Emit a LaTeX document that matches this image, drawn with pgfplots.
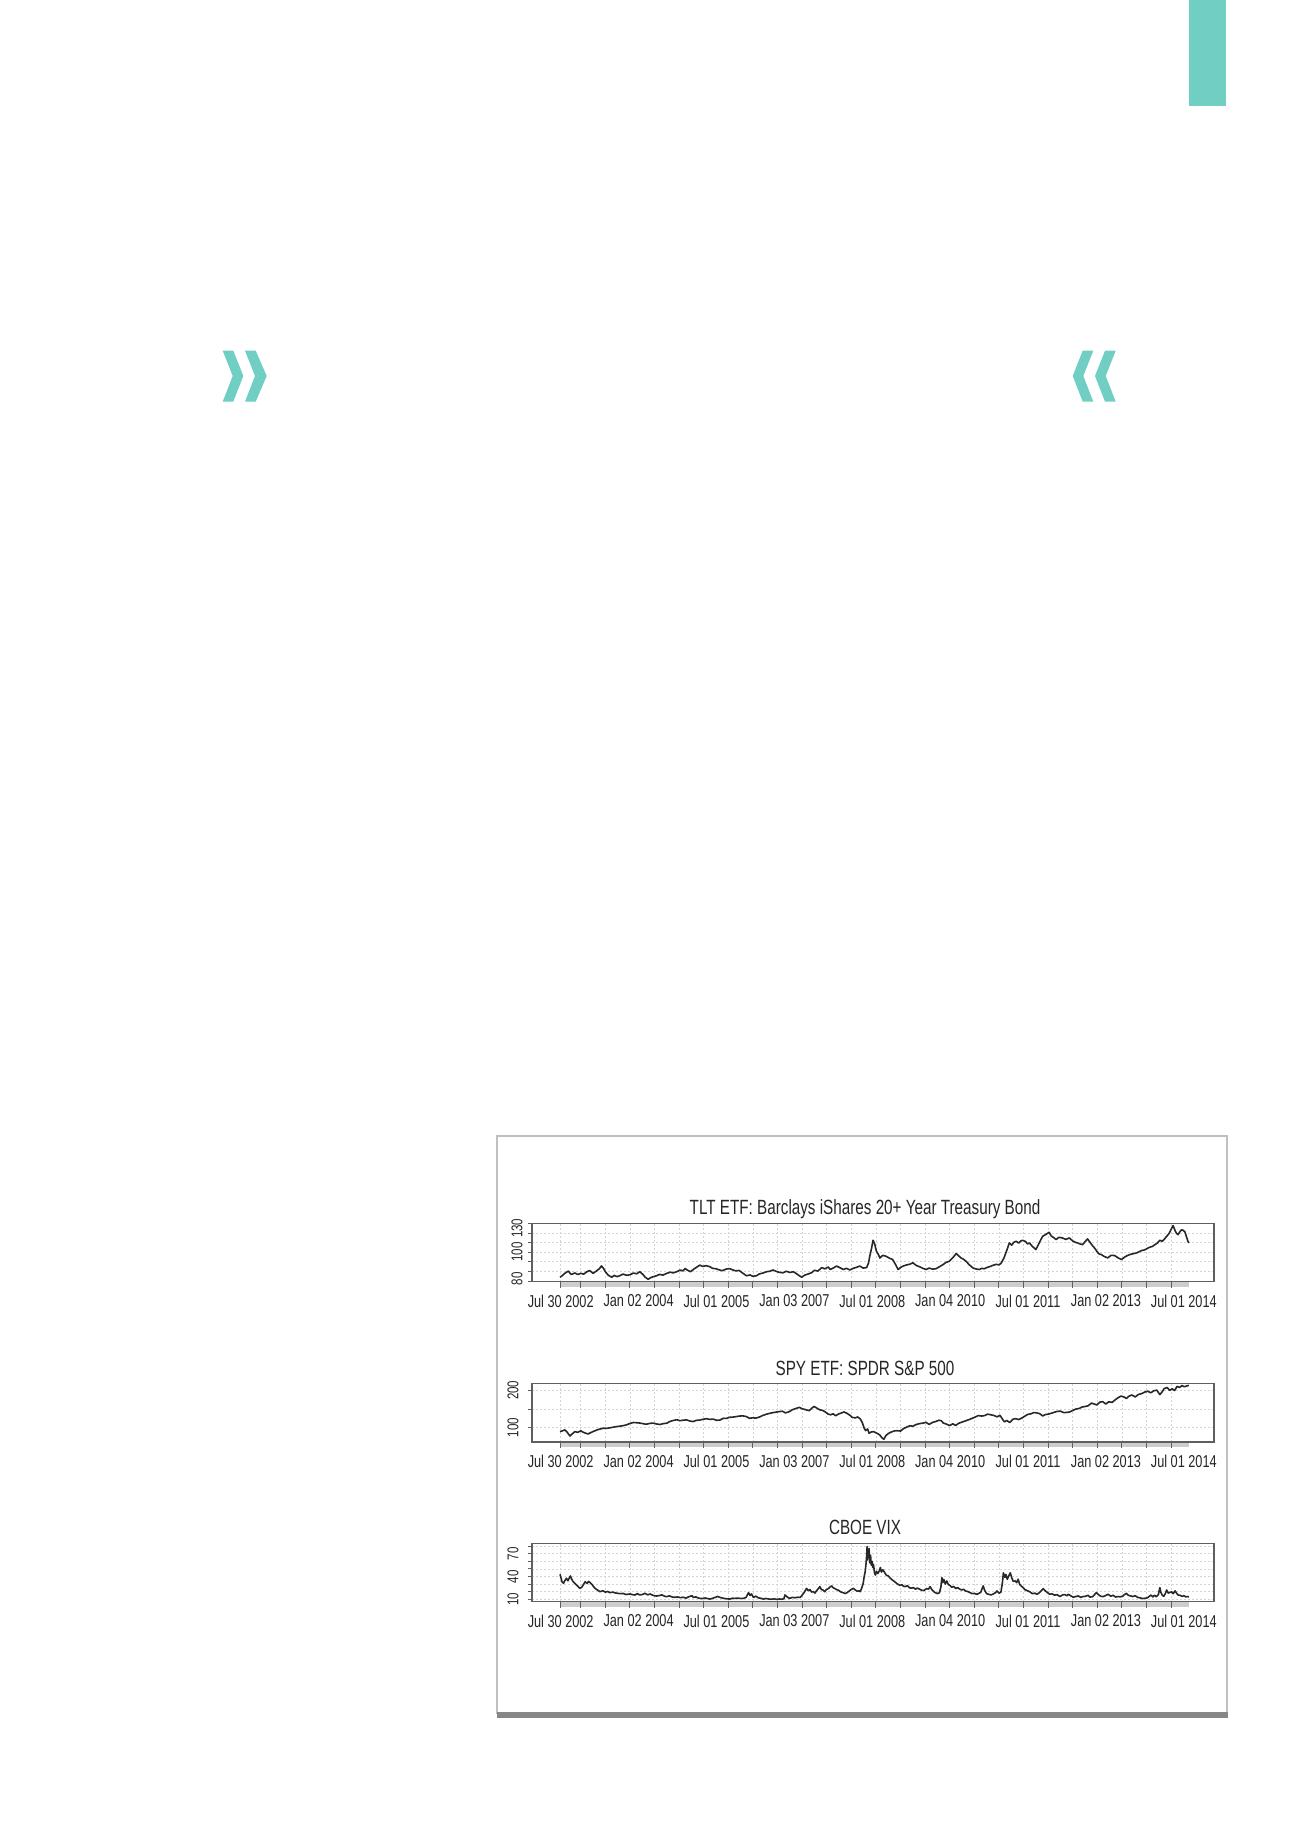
\documentclass[border=0pt]{standalone}
\usepackage{fontspec}
\setmainfont{Liberation Sans}[FakeStretch=0.74]
\usepackage{pgfplots}
\pgfplotsset{compat=1.18}

\definecolor{tealc}{RGB}{112,206,194}
\definecolor{linec}{RGB}{40,40,40}
\definecolor{framec}{RGB}{95,95,95}
\definecolor{gridc}{RGB}{212,212,212}
\definecolor{bandc}{RGB}{205,205,205}
\definecolor{boxc}{RGB}{192,192,192}
\definecolor{shadc}{RGB}{135,135,135}

\pgfplotsset{
  xtspanel/.style={
    scale only axis, width=341pt, height=29.2pt,
    anchor=south west,
    xmin=2002.009, xmax=2015.871,
    axis line style={draw=framec, line width=0.6pt},
    tick align=outside, xtick pos=left, ytick pos=left,
    xtick={2002.592,2004.175,2005.758,2007.341,2008.925,2010.508,2012.091,2013.674,2015.257},
    xticklabels={Jul 30 2002,Jan 02 2004,Jul 01 2005,Jan 03 2007,Jul 01 2008,Jan 04 2010,Jul 01 2011,Jan 02 2013,Jul 01 2014},
    major x tick style={draw=none},
    minor xtick={2002.578,2003,2003.5,2004,2004.5,2005,2005.5,2006,2006.5,2007,2007.5,2008,2008.5,2009,2009.5,2010,2010.5,2011,2011.5,2012,2012.5,2013,2013.5,2014,2014.5,2015},
    minor x tick style={draw=framec, line width=0.5pt},
    minor tick length=3pt, major tick length=2pt,
    ytick style={draw=framec, line width=0.5pt},
    xminorgrids=true, xmajorgrids=false, ymajorgrids=true,
    grid style={draw=gridc, line width=0.4pt, dash pattern=on 1pt off 1pt},
    minor grid style={draw=gridc, line width=0.4pt, dash pattern=on 1pt off 1pt},
    tick label style={font=\fontsize{8.6}{9}\selectfont, text=black!85, inner sep=0pt},
    xticklabel style={anchor=north},
    xticklabel shift=4.3pt,
    yticklabel style={rotate=90, anchor=south, font=\fontsize{7.8}{8}\selectfont},
    yticklabel shift=4.6pt,
    title style={font=\fontsize{10.3}{11}\selectfont, text=black!85, anchor=base, at={(0.5,1)}, yshift=-1.8pt, xshift=-4pt},
    /pgf/number format/assume math mode=true,
  },
  tsline/.style={draw=linec, line width=0.8pt, mark=none, line join=round},
}

\begin{document}
\begin{tikzpicture}
\fill[white] (0,0) rectangle (650pt,919.5pt);
\path[use as bounding box] (0,0) rectangle (650pt,919.5pt);

\begin{scope}[x=0.5pt, y=-0.5pt, shift={(0pt,919.5pt)}]
  % teal bar and chevrons
  \fill[tealc] (1189.3,0) rectangle (1226,105.7);
  \fill[tealc] (222.7,350.7) -- (233.3,350.7) -- (243.3,376) -- (233.3,401.7) -- (222.7,401.7) -- (232.7,376) -- cycle;
  \fill[tealc] (245,350.7) -- (255.7,350.7) -- (266.7,376) -- (255.7,401.7) -- (245,401.7) -- (255,376) -- cycle;
  \fill[tealc] (1093.3,350.7) -- (1082.7,350.7) -- (1072.7,376) -- (1082.7,401.7) -- (1093.3,401.7) -- (1083.3,376) -- cycle;
  \fill[tealc] (1115.7,350.7) -- (1105,350.7) -- (1095,376) -- (1105,401.7) -- (1115.7,401.7) -- (1105.7,376) -- cycle;
  % chart box
  \draw[boxc, line width=0.75pt] (497,1714) -- (497,1136) -- (1227,1136) -- (1227,1714);
  \draw[shadc, line width=3pt] (497,1715) -- (1228,1715);
  % grey tick bands under the panels
  \fill[bandc] (560,1281.7) rectangle (1189.3,1287);
  \fill[bandc] (560,1442) rectangle (1189.3,1447.3);
  \fill[bandc] (560,1601.7) rectangle (1189.3,1607);
\end{scope}

% TLT
\begin{axis}[xtspanel, at={(266pt,278.65pt)},
  title={TLT ETF: Barclays iShares 20+ Year Treasury Bond},
  ymin=79.3, ymax=140.2,
  ytick={80,90,100,110,120,130,140}, yticklabels={,,,,,,},
  extra y ticks={82.3,110.3,135}, extra y tick labels={80,100,130},
  extra y tick style={major tick length=0pt, ymajorgrids=false}]
\addplot[tsline] coordinates {
(2002.578,83.9)(2002.62,85.5)(2002.68,88.2)(2002.75,90.4)(2002.79,87.5)(2002.82,87)(2002.88,88.4)(2002.94,86.8)
(2003.00,88)(2003.06,87.2)(2003.12,89.5)(2003.18,91)(2003.25,88)(2003.32,90.5)(2003.38,93)(2003.42,95.7)
(2003.46,93.4)(2003.5,89.7)(2003.56,86)(2003.63,84)(2003.68,85.8)(2003.74,84.6)(2003.79,85.5)(2003.86,87.2)
(2003.93,86)(2004.00,86.5)(2004.07,88.3)(2004.14,87.6)(2004.2,89.7)(2004.26,87)(2004.31,84)(2004.37,81.8)
(2004.42,83.5)(2004.48,84.6)(2004.54,85.5)(2004.6,86.9)(2004.67,86.2)(2004.75,88)(2004.82,89.2)(2004.88,88.5)
(2004.95,89.7)(2005.02,91.4)(2005.08,90.6)(2005.12,93)(2005.18,91)(2005.23,89.7)(2005.3,92.6)(2005.36,94.5)
(2005.42,96.6)(2005.48,95.2)(2005.55,96)(2005.62,95)(2005.68,93.2)(2005.75,92.8)(2005.82,91.5)(2005.88,90.8)
(2005.95,92.4)(2006.02,93)(2006.08,91.8)(2006.15,90.6)(2006.22,91)(2006.28,88.7)(2006.33,86.8)(2006.37,85.5)
(2006.44,86.3)(2006.5,84.9)(2006.57,85.5)(2006.63,87.4)(2006.7,88.3)(2006.78,89.7)(2006.84,90.2)(2006.91,91.5)
(2006.97,90.1)(2007.04,89)(2007.11,88.6)(2007.18,90.2)(2007.25,88.9)(2007.32,89.7)(2007.38,87.8)(2007.44,85.6)
(2007.49,84)(2007.55,86.1)(2007.62,87.3)(2007.69,88.6)(2007.75,91.2)(2007.82,90.4)(2007.9,94)(2007.96,92.7)
(2008.03,94.6)(2008.07,92)(2008.13,93.5)(2008.2,95.6)(2008.27,93.8)(2008.34,92)(2008.4,93.3)(2008.47,91.5)
(2008.53,93.1)(2008.6,94.2)(2008.67,95.6)(2008.74,93.5)(2008.81,94)(2008.85,99)(2008.87,105)(2008.91,114)
(2008.94,122.5)(2008.97,119.3)(2009.01,111)(2009.05,107.6)(2009.08,104)(2009.14,106.8)(2009.21,105.7)(2009.27,103.9)
(2009.34,102.4)(2009.4,97)(2009.45,92)(2009.5,94.2)(2009.55,95.5)(2009.62,96.8)(2009.68,97.4)(2009.75,99)
(2009.82,96.2)(2009.89,94.8)(2009.95,93.3)(2010.02,92)(2010.08,93.5)(2010.15,92.4)(2010.22,92.8)(2010.29,94.9)
(2010.36,97)(2010.42,99.3)(2010.49,100.6)(2010.56,104.2)(2010.63,108.6)(2010.68,106.3)(2010.73,104)(2010.78,102.7)
(2010.83,100.6)(2010.9,96.8)(2010.97,93.7)(2011.03,92.6)(2011.1,92)(2011.15,93.2)(2011.2,92.8)(2011.27,94.4)
(2011.33,95.3)(2011.37,96.2)(2011.44,97.4)(2011.5,96.9)(2011.54,98.3)(2011.6,103.8)(2011.64,109.3)(2011.68,115)
(2011.71,119.7)(2011.76,117.4)(2011.8,120.3)(2011.85,121.5)(2011.9,119.6)(2011.94,121.7)(2011.98,122.5)(2012.04,121.2)
(2012.08,118.7)(2012.12,119.7)(2012.18,116.1)(2012.25,112.8)(2012.3,117.8)(2012.35,123)(2012.39,126.7)(2012.45,128.5)
(2012.52,130.8)(2012.56,127.1)(2012.62,125)(2012.66,123.2)(2012.72,125.6)(2012.79,124.9)(2012.86,123.4)(2012.93,124.9)
(2013.0,121.8)(2013.05,120.4)(2013.1,119.7)(2013.15,118.6)(2013.2,118)(2013.25,121)(2013.3,123.9)(2013.35,120.4)
(2013.4,117)(2013.44,114.6)(2013.5,110.3)(2013.54,108.1)(2013.58,107.6)(2013.64,105.6)(2013.71,104.1)(2013.78,106.8)
(2013.85,106.6)(2013.92,104.2)(2013.99,102.4)(2014.05,104.8)(2014.1,106.3)(2014.16,107.6)(2014.22,108.4)(2014.28,109.1)
(2014.33,110)(2014.4,111.8)(2014.45,112.3)(2014.5,113.5)(2014.56,115.2)(2014.62,116.1)(2014.67,118)(2014.72,119.6)
(2014.77,122.5)(2014.82,121.4)(2014.87,124.2)(2014.91,126.7)(2014.96,129.8)(2015.0,134)(2015.04,137.8)(2015.08,132.5)
(2015.11,129.6)(2015.14,128.4)(2015.18,131.6)(2015.21,133.4)(2015.24,133)(2015.28,131.2)(2015.31,126.4)(2015.34,121.5)
(2015.36,119.7)
};
\end{axis}

% SPY
\begin{axis}[xtspanel, at={(266pt,198.5pt)},
  title={SPY ETF: SPDR S\&P 500},
  ymin=62, ymax=218,
  ytick={100,150,200}, yticklabels={100,,200}]
\addplot[tsline] coordinates {
(2002.578,89.7)(2002.63,92)(2002.68,94.3)(2002.73,87)(2002.78,78)(2002.83,84)(2002.88,89.7)(2002.94,87.8)
(2003.0,92)(2003.05,88)(2003.1,85.5)(2003.15,83.5)(2003.2,86.8)(2003.25,90)(2003.29,92)(2003.35,95.2)
(2003.4,96.8)(2003.46,98.8)(2003.52,98.4)(2003.58,99.6)(2003.66,101.5)(2003.72,103)(2003.79,104.2)(2003.86,105.5)
(2003.93,107.8)(2004.0,111.5)(2004.07,114)(2004.14,113.4)(2004.2,112.6)(2004.27,110.8)(2004.33,109.4)(2004.4,111.6)
(2004.47,112.6)(2004.54,110.2)(2004.61,108.7)(2004.68,111.2)(2004.75,112.2)(2004.81,116.7)(2004.87,119.2)(2004.95,121.4)
(2005.02,118.9)(2005.08,120.2)(2005.15,121.1)(2005.22,118)(2005.28,116.6)(2005.35,119.8)(2005.42,120.6)(2005.49,122.8)
(2005.56,124.3)(2005.62,122.4)(2005.69,123.2)(2005.76,119.9)(2005.83,120.7)(2005.9,125.4)(2005.96,124.9)(2006.02,127.9)
(2006.09,128.4)(2006.16,129.9)(2006.22,131.2)(2006.29,131.8)(2006.36,130.2)(2006.43,125.3)(2006.49,126.5)(2006.56,125.8)
(2006.63,128.6)(2006.7,132.9)(2006.76,135.7)(2006.83,138.2)(2006.9,140.3)(2006.96,141.6)(2007.03,143.2)(2007.1,144.1)
(2007.16,139.8)(2007.23,142.5)(2007.3,148.1)(2007.37,151.4)(2007.44,154.5)(2007.5,150.8)(2007.57,148.4)(2007.64,145.6)
(2007.7,152.6)(2007.74,157)(2007.8,152.4)(2007.86,147.8)(2007.91,146.6)(2007.97,142.3)(2008.03,136.4)(2008.08,134.7)
(2008.13,137.4)(2008.18,132.2)(2008.24,136.8)(2008.3,139.6)(2008.35,142.3)(2008.41,138.6)(2008.47,133.4)(2008.52,127.6)
(2008.58,126.4)(2008.63,128.9)(2008.68,123.6)(2008.72,114.5)(2008.76,99)(2008.79,92.5)(2008.83,96.8)(2008.86,85.3)
(2008.9,88.5)(2008.95,89.8)(2009.0,86.5)(2009.04,84)(2009.08,80.3)(2009.12,73.5)(2009.16,69.2)(2009.2,78.8)
(2009.25,84.6)(2009.3,88)(2009.37,91.5)(2009.43,92.3)(2009.5,91.2)(2009.56,97.8)(2009.62,101.6)(2009.69,105.4)
(2009.75,104.2)(2009.82,108.8)(2009.88,110.9)(2009.95,112.3)(2010.02,114.4)(2010.08,108.9)(2010.15,114.3)(2010.21,116.5)
(2010.28,120.1)(2010.33,118.6)(2010.37,112.5)(2010.43,109.8)(2010.5,105.8)(2010.56,110.6)(2010.62,106.2)(2010.68,111.9)
(2010.75,115.2)(2010.82,118.5)(2010.88,121.2)(2010.95,124.9)(2011.02,128.7)(2011.08,132.6)(2011.15,131.2)(2011.21,132.6)
(2011.27,136.3)(2011.33,134.8)(2011.4,132.7)(2011.46,129.2)(2011.52,133.4)(2011.58,121.3)(2011.61,115.9)(2011.66,119.4)
(2011.72,113.9)(2011.78,122.5)(2011.84,124.5)(2011.9,121.9)(2011.96,125.5)(2012.02,130.5)(2012.08,135.4)(2012.15,137.3)
(2012.21,140.6)(2012.27,139.7)(2012.33,137.5)(2012.39,131.5)(2012.44,135.2)(2012.5,136.4)(2012.56,138.5)(2012.62,141.2)
(2012.69,143.9)(2012.75,144.2)(2012.82,140.4)(2012.88,141.1)(2012.94,142.4)(2013.0,146.2)(2013.06,149.9)(2013.13,151.6)
(2013.19,155.4)(2013.25,156.8)(2013.31,158.6)(2013.38,165.8)(2013.44,163.2)(2013.49,160.9)(2013.55,168.6)(2013.61,169.6)
(2013.67,163.4)(2013.73,169.3)(2013.8,167.9)(2013.86,174.4)(2013.92,180.2)(2013.98,184.7)(2014.04,182.4)(2014.09,178.2)
(2014.14,184.2)(2014.2,187.6)(2014.27,182.3)(2014.33,188.7)(2014.4,191.2)(2014.46,195.2)(2014.52,197.6)(2014.59,193.5)
(2014.65,199.1)(2014.71,200.4)(2014.77,188.6)(2014.81,194.8)(2014.86,204.9)(2014.92,207.4)(2014.97,199.8)(2015.02,204.1)
(2015.07,199.5)(2015.12,210.4)(2015.17,207.8)(2015.22,212.6)(2015.27,209.6)(2015.32,211.9)(2015.36,213.2)
};
\end{axis}

% VIX
\begin{axis}[xtspanel, at={(266pt,118.65pt)},
  title={CBOE VIX},
  ymin=7.06, ymax=83.74,
  ytick={10,20,30,40,50,60,70,80}, yticklabels={10,,,40,,,70,}]
\addplot[tsline] coordinates {
(2002.578,43)(2002.6,38)(2002.62,33)(2002.65,31.2)(2002.68,35)(2002.71,37.8)(2002.74,34.5)(2002.77,38.5)
(2002.79,40.8)(2002.82,36)(2002.85,33)(2002.88,31.2)(2002.92,28.4)(2002.95,26.8)(2002.98,24.6)(2003.02,26)
(2003.06,30.2)(2003.09,33.3)(2003.13,31)(2003.16,33.8)(2003.19,32)(2003.23,29.5)(2003.26,26.9)(2003.29,24.6)
(2003.34,22.4)(2003.39,20.2)(2003.45,21.4)(2003.5,19.6)(2003.55,20.5)(2003.59,18.9)(2003.65,19.7)(2003.7,18.6)
(2003.75,18.1)(2003.8,17.6)(2003.86,17.9)(2003.92,16.5)(2004.0,17.2)(2004.05,16.3)(2004.1,15.8)(2004.15,17.6)
(2004.2,15.9)(2004.26,16.6)(2004.3,18.2)(2004.36,16.1)(2004.41,17.2)(2004.46,15.6)(2004.5,14.8)(2004.54,14.5)
(2004.6,15.2)(2004.65,16)(2004.7,14.3)(2004.75,13.6)(2004.8,14.8)(2004.86,13.2)(2004.92,12.8)(2004.97,13.3)
(2005.02,12.3)(2005.08,12.9)(2005.14,11.8)(2005.2,13.7)(2005.26,14.8)(2005.29,12.7)(2005.34,13.3)(2005.38,12.1)
(2005.42,11.4)(2005.48,11.2)(2005.53,11.9)(2005.58,11.1)(2005.63,10.5)(2005.68,11.6)(2005.73,12.6)(2005.78,13.9)
(2005.83,12.7)(2005.88,11.8)(2005.93,11.2)(2005.98,10.8)(2006.03,10.5)(2006.08,11.6)(2006.13,11.4)(2006.18,11.8)
(2006.24,11.4)(2006.3,11.3)(2006.36,12.7)(2006.39,16.4)(2006.41,18.9)(2006.44,15.3)(2006.47,17.2)(2006.51,12.7)
(2006.56,14.3)(2006.61,12.1)(2006.66,11.6)(2006.71,10.5)(2006.76,11.3)(2006.82,10.6)(2006.88,10.3)(2006.93,10.8)
(2006.98,10.1)(2007.04,10.6)(2007.09,10.3)(2007.13,11.1)(2007.15,15.9)(2007.18,14.2)(2007.21,12.6)(2007.25,11.4)
(2007.3,12.8)(2007.35,12.2)(2007.41,12.9)(2007.46,12.7)(2007.5,15.6)(2007.54,19.2)(2007.57,22.4)(2007.59,24.6)
(2007.62,21.5)(2007.66,23)(2007.69,19.8)(2007.73,20.2)(2007.76,18.4)(2007.8,22.1)(2007.83,24.3)(2007.86,26.9)
(2007.89,23.1)(2007.92,22.5)(2007.96,20.2)(2007.99,22.8)(2008.03,24.2)(2008.07,26.6)(2008.1,27.8)(2008.13,25.4)
(2008.17,24.1)(2008.2,22.9)(2008.23,22.4)(2008.28,20.1)(2008.33,18.9)(2008.38,17.8)(2008.41,18.9)(2008.45,20.7)
(2008.49,22.8)(2008.54,24.6)(2008.58,22.4)(2008.62,20.8)(2008.66,21.4)(2008.68,20.2)(2008.71,24.8)(2008.74,31)
(2008.76,39.9)(2008.78,46)(2008.8,58)(2008.81,67)(2008.82,79.5)(2008.83,62)(2008.84,74)(2008.85,66)
(2008.86,77)(2008.875,58)(2008.89,68)(2008.905,55)(2008.92,60)(2008.935,52)(2008.95,56)(2008.97,45)
(2008.99,42)(2009.01,47)(2009.04,44)(2009.07,48)(2009.09,52)(2009.11,46)(2009.14,49)(2009.18,45)
(2009.21,42)(2009.25,40.8)(2009.29,38)(2009.32,36.2)(2009.36,34.3)(2009.39,32.8)(2009.43,30.6)(2009.46,29.5)
(2009.49,28.6)(2009.53,29.3)(2009.56,27.2)(2009.6,26.9)(2009.64,28.1)(2009.68,25.3)(2009.72,24.8)(2009.76,25.6)
(2009.8,23.6)(2009.84,24.9)(2009.89,23.4)(2009.93,22.1)(2009.97,21.7)(2010.03,24.2)(2010.07,23.6)(2010.1,26.9)
(2010.14,22.5)(2010.2,19)(2010.25,17.8)(2010.29,18.8)(2010.32,26.5)(2010.34,38.7)(2010.36,32.2)(2010.38,36.4)
(2010.41,30.2)(2010.44,34.3)(2010.47,29.6)(2010.5,28.6)(2010.54,26.1)(2010.58,27.1)(2010.62,24.3)(2010.66,25.6)
(2010.7,23.7)(2010.74,22.4)(2010.78,23.4)(2010.82,21.2)(2010.87,20.3)(2010.91,19)(2010.96,17.6)(2011.0,17.9)
(2011.05,16.8)(2011.09,17.9)(2011.13,19.4)(2011.16,24.6)(2011.18,27.8)(2011.21,21.8)(2011.25,17.6)(2011.29,16.8)
(2011.34,15.9)(2011.39,17.4)(2011.43,18.9)(2011.46,21.2)(2011.5,18.3)(2011.54,19.6)(2011.57,31.8)(2011.59,45)
(2011.62,38.9)(2011.64,42.8)(2011.67,36.4)(2011.7,41.2)(2011.73,45)(2011.76,38.4)(2011.79,33.8)(2011.83,34.3)
(2011.86,32.1)(2011.89,36.5)(2011.92,29.8)(2011.96,27.2)(2011.99,25.6)(2012.03,22.8)(2012.08,21.4)(2012.13,19.9)
(2012.18,17.6)(2012.23,18.3)(2012.27,16.8)(2012.32,18.8)(2012.36,21.6)(2012.4,24.2)(2012.44,21.3)(2012.49,18.9)
(2012.53,16.8)(2012.58,17.4)(2012.63,15.6)(2012.68,16.3)(2012.74,13.8)(2012.79,15.9)(2012.84,16.4)(2012.88,14.8)
(2012.91,16.8)(2012.95,15.2)(2013.01,12.9)(2013.06,13.8)(2013.11,14.6)(2013.16,12.8)(2013.21,13.8)(2013.26,14.2)
(2013.31,15.5)(2013.35,13.1)(2013.4,13.6)(2013.44,16.2)(2013.48,19)(2013.52,16.4)(2013.57,14.1)(2013.62,13.8)
(2013.67,15.2)(2013.72,16.8)(2013.77,14.3)(2013.82,15.5)(2013.87,13.2)(2013.92,13.8)(2013.97,13.4)(2014.02,14.6)
(2014.06,16.8)(2014.09,18.1)(2014.13,15.4)(2014.18,14.6)(2014.22,13.8)(2014.27,14.9)(2014.32,12.7)(2014.37,12.1)
(2014.42,11.2)(2014.47,11.6)(2014.52,12.2)(2014.55,13.8)(2014.59,15.7)(2014.63,13.3)(2014.66,15.5)(2014.7,13.6)
(2014.74,16.3)(2014.76,22.4)(2014.77,25.6)(2014.79,19.5)(2014.82,15.5)(2014.85,14.2)(2014.88,17.6)(2014.91,22.4)
(2014.94,18.3)(2014.97,19.2)(2015.01,19.9)(2015.04,17.6)(2015.08,21.2)(2015.11,18.3)(2015.14,15.9)(2015.18,15.5)
(2015.22,14.1)(2015.26,14.9)(2015.3,13.4)(2015.32,13.8)(2015.36,13.5)
};
\end{axis}
\end{tikzpicture}
\end{document}
